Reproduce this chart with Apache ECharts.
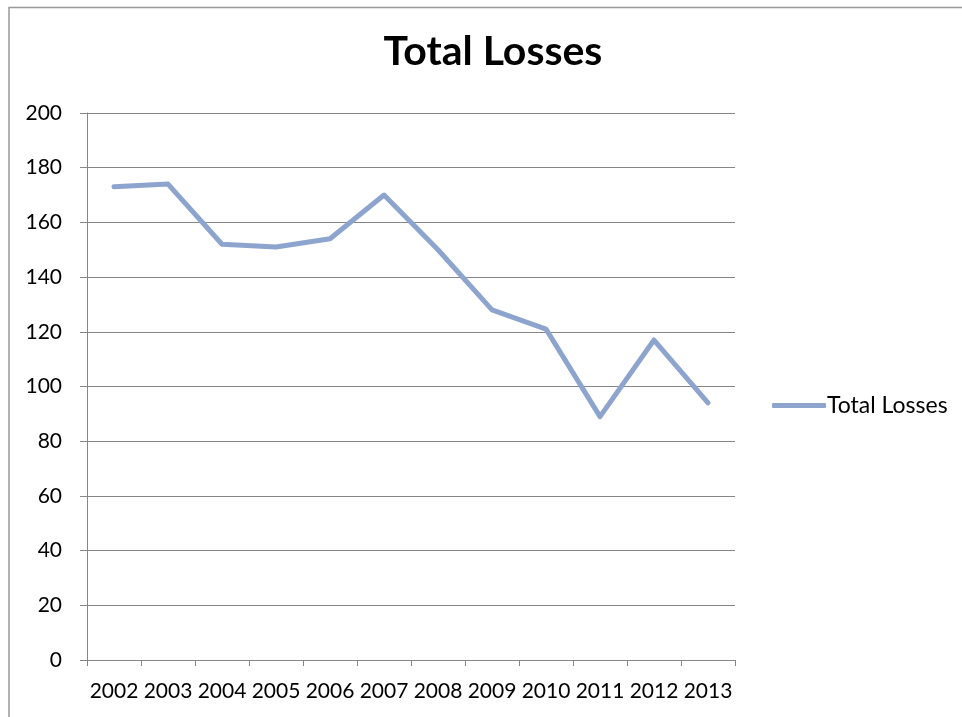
<!DOCTYPE html>
<html>
<head>
<meta charset="utf-8">
<script src="https://cdn.jsdelivr.net/npm/echarts@6/dist/echarts.min.js"></script>
<style>
  html, body { margin: 0; padding: 0; background: #fff; }
  #chart { width: 962px; height: 717px; }
</style>
</head>
<body>
<div id="chart"></div>
<script>
// Yearly totals
const years = ['2002', '2003', '2004', '2005', '2006', '2007', '2008', '2009', '2010', '2011', '2012', '2013'];
const totalLosses = [173, 174, 152, 151, 154, 170, 150, 128, 121, 89, 117, 94];
const seriesName = 'Total Losses';
const titleText = 'Total Losses';
const yTicks = { min: 0, max: 200, interval: 20 };

const font = 'Lato, "Open Sans", sans-serif';
const axisGray = '#868686';
const lineBlue = '#8DA5CE';

const chart = echarts.init(document.getElementById('chart'), null, { renderer: 'canvas' });

chart.setOption({
  animation: false,
  backgroundColor: '#ffffff',
  title: {
    text: titleText,
    left: 488,
    top: 26,
    textAlign: 'center',
    textStyle: { fontFamily: font, fontWeight: 'bold', fontSize: 41, color: '#000' }
  },
  legend: {
    data: [seriesName],
    orient: 'vertical',
    left: 767,
    top: 389,
    itemWidth: 54,
    itemHeight: 5,
    itemGap: 0,
    icon: 'roundRect',
    textStyle: { fontFamily: font, fontSize: 23, color: '#000', padding: [0, 0, 0, -4] }
  },
  grid: { left: 87, right: 227, top: 113, bottom: 57, containLabel: false },
  xAxis: {
    type: 'category',
    data: years,
    boundaryGap: true,
    axisLine: { lineStyle: { color: axisGray, width: 1 } },
    axisTick: { show: true, alignWithLabel: false, length: 6, lineStyle: { color: axisGray } },
    axisLabel: { fontFamily: font, fontSize: 21, color: '#000', margin: 21, interval: 0 },
    splitLine: { show: false }
  },
  yAxis: {
    type: 'value',
    min: yTicks.min,
    max: yTicks.max,
    interval: yTicks.interval,
    axisLine: { show: true, lineStyle: { color: axisGray, width: 1 } },
    axisTick: { show: true, length: 7, lineStyle: { color: axisGray } },
    axisLabel: { fontFamily: font, fontSize: 21, color: '#000', margin: 25 },
    splitLine: { show: true, lineStyle: { color: axisGray, width: 1 } }
  },
  series: [{
    name: seriesName,
    type: 'line',
    data: totalLosses,
    symbol: 'none',
    lineStyle: { color: lineBlue, width: 5, cap: 'round', join: 'round' },
    itemStyle: { color: lineBlue }
  }],
  graphic: [{
    type: 'polyline',
    silent: true,
    shape: { points: [[9, 730], [9, 7.5], [975, 7.5]] },
    style: { stroke: '#999999', lineWidth: 1.5, fill: null }
  }]
});
</script>
</body>
</html>
